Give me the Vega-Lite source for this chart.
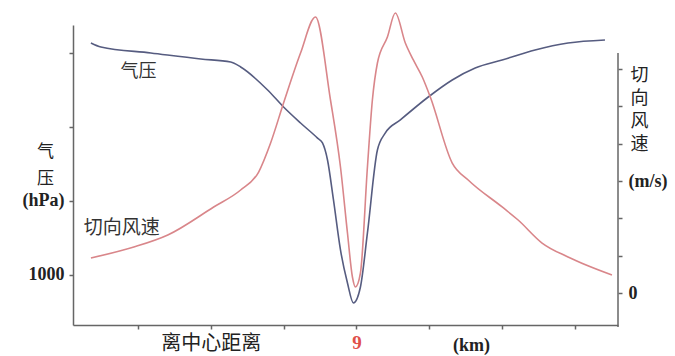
{
  "$schema": "https://vega.github.io/schema/vega-lite/v6.json",
  "width": 545,
  "height": 300,
  "autosize": {"type": "none"},
  "padding": {"left": 73, "top": 25, "right": 57, "bottom": 31},
  "background": "white",
  "config": {"view": {"stroke": null}},
  "encoding": {
    "x": {
      "field": "d", "type": "quantitative",
      "scale": {"domain": [-3.89, 3.59], "nice": false, "zero": false},
      "axis": {
        "values": [-3, -2, -1, 0, 1, 2, 3],
        "labelExpr": "datum.value == 0 ? '9' : (datum.value == -2 ? '离中心距离' : '')",
        "labelFontSize": {"condition": {"test": "datum.value == 0", "value": 19}, "value": 20},
        "labelColor": {"condition": {"test": "datum.value == 0", "value": "#e0504a"}, "value": "#222"},
        "labelFontWeight": {"condition": {"test": "datum.value == 0", "value": "bold"}, "value": "normal"},
        "labelFont": "Liberation Serif, Noto Sans CJK SC",
        "labelBaseline": "top",
        "labelPadding": 4,
        "labelOverlap": false,
        "labelFlush": false,
        "labelBound": false,
        "tickSize": 4,
        "tickColor": "#666",
        "tickWidth": 1.5,
        "domainColor": "#666",
        "domainWidth": 1.5,
        "grid": false,
        "title": "(km)",
        "titleX": 398,
        "titleY": 11,
        "titleAlign": "center",
        "titleBaseline": "top",
        "titleFont": "Liberation Serif",
        "titleFontSize": 18,
        "titleFontWeight": "bold",
        "titleColor": "#222"
      }
    }
  },
  "layer": [
    {
      "encoding": {
        "y": {
          "field": "p", "type": "quantitative",
          "scale": {"domain": [993.24, 1033.78], "nice": false, "zero": false},
          "axis": {
            "orient": "left",
            "values": [1000, 1010, 1020, 1030],
            "labelExpr": "datum.value == 1000 ? '1000' : (datum.value == 1010 ? '(hPa)' : '')",
            "labelFont": "Liberation Serif",
            "labelFontSize": 18,
            "labelFontWeight": "bold",
            "labelColor": "#222",
            "labelPadding": 5,
            "labelOverlap": false,
            "labelBound": false,
            "tickSize": 4,
            "tickColor": "#666",
            "tickWidth": 1.5,
            "domainColor": "#666",
            "domainWidth": 1.5,
            "grid": false,
            "title": ["气", "压"],
            "titleAngle": 0,
            "titleX": -28,
            "titleY": 131,
            "titleAlign": "center",
            "titleBaseline": "alphabetic",
            "titleLineHeight": 27,
            "titleFont": "Noto Sans CJK SC",
            "titleFontSize": 17,
            "titleFontWeight": "normal",
            "titleColor": "#222"
          }
        }
      },
      "layer": [
        {
          "data": {"values": [
            {"d": -3.644, "p": 1031.35},
            {"d": -3.507, "p": 1030.81},
            {"d": -2.822, "p": 1030.0},
            {"d": -2.137, "p": 1029.19},
            {"d": -1.726, "p": 1028.78},
            {"d": -1.589, "p": 1028.11},
            {"d": -1.219, "p": 1025.0},
            {"d": -1.0, "p": 1022.7},
            {"d": -0.767, "p": 1020.54},
            {"d": -0.534, "p": 1018.5},
            {"d": -0.466, "p": 1017.84},
            {"d": -0.397, "p": 1015.54},
            {"d": -0.315, "p": 1010.14},
            {"d": -0.219, "p": 1003.38},
            {"d": -0.123, "p": 998.92},
            {"d": -0.041, "p": 996.22},
            {"d": 0.055, "p": 998.38},
            {"d": 0.151, "p": 1005.68},
            {"d": 0.288, "p": 1016.89},
            {"d": 0.397, "p": 1019.19},
            {"d": 0.603, "p": 1020.95},
            {"d": 0.986, "p": 1024.05},
            {"d": 1.315, "p": 1026.35},
            {"d": 1.63, "p": 1027.97},
            {"d": 2.0, "p": 1029.05},
            {"d": 2.452, "p": 1030.41},
            {"d": 2.904, "p": 1031.35},
            {"d": 3.411, "p": 1031.76}
          ]},
          "mark": {"type": "line", "color": "#565c80", "strokeWidth": 1.6, "interpolate": "monotone"}
        },
        {
          "data": {"values": [{"d": -2.99, "p": 1027.4, "label": "气压"}]},
          "mark": {"type": "text", "font": "Noto Sans CJK SC", "fontSize": 18, "color": "#333", "align": "center", "baseline": "middle"},
          "encoding": {"text": {"field": "label"}}
        }
      ]
    },
    {
      "encoding": {
        "y": {
          "field": "w", "type": "quantitative",
          "scale": {"domain": [-8.57, 71.79], "nice": false, "zero": false},
          "axis": {
            "orient": "right",
            "values": [0, 10, 20, 30, 40, 50, 60],
            "labelExpr": "datum.value == 0 ? '0' : (datum.value == 30 ? '(m/s)' : '')",
            "labelFont": "Liberation Serif",
            "labelFontSize": 18,
            "labelFontWeight": "bold",
            "labelColor": "#222",
            "labelPadding": 6,
            "labelOverlap": false,
            "labelBound": false,
            "tickSize": 4,
            "tickColor": "#666",
            "tickWidth": 1.5,
            "domain": false,
            "grid": false,
            "title": ["切", "向", "风", "速"],
            "titleAngle": 0,
            "titleX": 12,
            "titleY": 55,
            "titleAlign": "left",
            "titleBaseline": "alphabetic",
            "titleLineHeight": 23,
            "titleFont": "Noto Sans CJK SC",
            "titleFontSize": 18,
            "titleFontWeight": "normal",
            "titleColor": "#222"
          }
        }
      },
      "layer": [
        {
          "data": {"values": [
            {"d": -3.644, "w": 9.38},
            {"d": -3.055, "w": 12.32},
            {"d": -2.589, "w": 15.54},
            {"d": -1.959, "w": 23.04},
            {"d": -1.589, "w": 27.59},
            {"d": -1.342, "w": 32.41},
            {"d": -1.178, "w": 40.18},
            {"d": -1.0, "w": 50.9},
            {"d": -0.767, "w": 64.29},
            {"d": -0.562, "w": 73.93},
            {"d": -0.356, "w": 51.7},
            {"d": -0.219, "w": 33.75},
            {"d": -0.123, "w": 16.07},
            {"d": -0.055, "w": 4.29},
            {"d": -0.014, "w": 1.61},
            {"d": 0.055, "w": 5.36},
            {"d": 0.151, "w": 33.75},
            {"d": 0.219, "w": 51.7},
            {"d": 0.288, "w": 61.61},
            {"d": 0.425, "w": 68.58},
            {"d": 0.534, "w": 75.0},
            {"d": 0.671, "w": 66.97},
            {"d": 0.781, "w": 62.42},
            {"d": 0.904, "w": 57.86},
            {"d": 1.014, "w": 52.5},
            {"d": 1.315, "w": 34.82},
            {"d": 1.534, "w": 30.27},
            {"d": 2.0, "w": 23.04},
            {"d": 2.219, "w": 19.55},
            {"d": 2.548, "w": 13.39},
            {"d": 2.904, "w": 9.64},
            {"d": 3.507, "w": 4.82}
          ]},
          "mark": {"type": "line", "color": "#d9868a", "strokeWidth": 1.6, "interpolate": "monotone"}
        },
        {
          "data": {"values": [{"d": -3.22, "w": 17.4, "label": "切向风速"}]},
          "mark": {"type": "text", "font": "Noto Sans CJK SC", "fontSize": 19, "color": "#333", "align": "center", "baseline": "middle"},
          "encoding": {"text": {"field": "label"}}
        },
        {
          "data": {"values": [{"d": 3.59, "w": 64.3, "w2": -9.1}]},
          "mark": {"type": "rule", "color": "#666", "strokeWidth": 1.5},
          "encoding": {"y2": {"field": "w2"}}
        }
      ]
    }
  ],
  "resolve": {"scale": {"y": "independent"}, "axis": {"y": "independent"}}
}
